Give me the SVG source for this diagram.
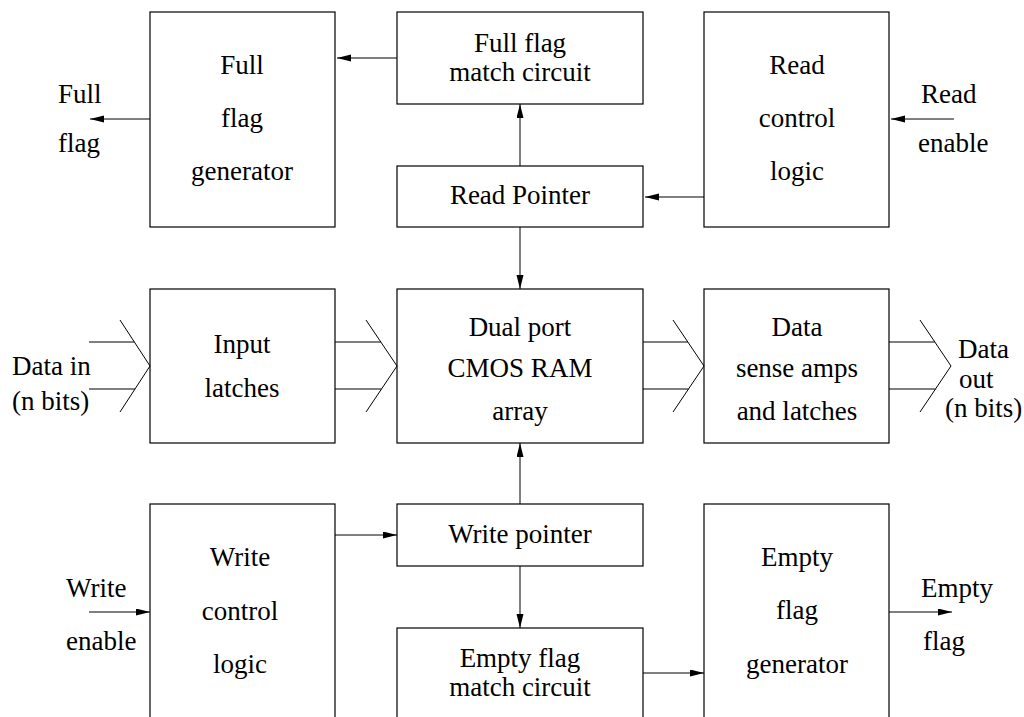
<svg xmlns="http://www.w3.org/2000/svg" width="1024" height="717" viewBox="0 0 1024 717">
  <style>
    .box { fill: #fff; stroke: #000; stroke-width: 1.2; }
    .wire { fill: none; stroke: #000; stroke-width: 1; }
    .arr { fill: none; stroke: #000; stroke-width: 1; marker-end: url(#head); }
    text { font-family: "Liberation Serif", "Times New Roman", serif; font-size: 27px; fill: #000; }
    .c { text-anchor: middle; }
  </style>
  <defs>
    <marker id="head" markerUnits="userSpaceOnUse" markerWidth="14" markerHeight="8" refX="14" refY="3.5" orient="auto">
      <path d="M0,0 L14,3.5 L0,7 z" fill="#000"/>
    </marker>
  </defs>

  <rect width="1024" height="717" fill="#fff"/>

  <!-- top row -->
  <g id="full-flag-generator">
    <rect class="box" x="150" y="12" width="185" height="215"/>
    <text class="c" x="242" y="74">Full</text>
    <text class="c" x="242" y="127">flag</text>
    <text class="c" x="242" y="180">generator</text>
  </g>
  <g id="full-flag-match">
    <rect class="box" x="397" y="12" width="246" height="92"/>
    <text class="c" x="520" y="52">Full flag</text>
    <text class="c" x="520" y="81">match circuit</text>
  </g>
  <g id="read-control-logic">
    <rect class="box" x="704" y="12" width="185" height="215"/>
    <text class="c" x="797" y="74">Read</text>
    <text class="c" x="797" y="127">control</text>
    <text class="c" x="797" y="180">logic</text>
  </g>
  <g id="read-pointer">
    <rect class="box" x="397" y="166" width="246" height="61"/>
    <text class="c" x="520" y="204">Read Pointer</text>
  </g>

  <!-- middle row -->
  <g id="input-latches">
    <rect class="box" x="150" y="289" width="185" height="154"/>
    <text class="c" x="242" y="353">Input</text>
    <text class="c" x="242" y="397">latches</text>
  </g>
  <g id="ram-array">
    <rect class="box" x="397" y="289" width="246" height="154"/>
    <text class="c" x="520" y="336">Dual port</text>
    <text class="c" x="520" y="377">CMOS RAM</text>
    <text class="c" x="520" y="420">array</text>
  </g>
  <g id="sense-amps">
    <rect class="box" x="704" y="289" width="185" height="154"/>
    <text class="c" x="797" y="336">Data</text>
    <text class="c" x="797" y="377">sense amps</text>
    <text class="c" x="797" y="420">and latches</text>
  </g>

  <!-- bottom row -->
  <g id="write-control-logic">
    <rect class="box" x="150" y="504" width="185" height="215"/>
    <text class="c" x="240" y="566">Write</text>
    <text class="c" x="240" y="620">control</text>
    <text class="c" x="240" y="673">logic</text>
  </g>
  <g id="write-pointer">
    <rect class="box" x="397" y="504" width="246" height="62"/>
    <text class="c" x="520" y="543">Write pointer</text>
  </g>
  <g id="empty-flag-match">
    <rect class="box" x="397" y="628" width="246" height="92"/>
    <text class="c" x="520" y="667">Empty flag</text>
    <text class="c" x="520" y="696">match circuit</text>
  </g>
  <g id="empty-flag-generator">
    <rect class="box" x="704" y="504" width="185" height="215"/>
    <text class="c" x="797" y="566">Empty</text>
    <text class="c" x="797" y="619">flag</text>
    <text class="c" x="797" y="673">generator</text>
  </g>

  <!-- external signal labels -->
  <g id="full-flag-label">
    <text x="58" y="103">Full</text>
    <text x="58" y="152">flag</text>
  </g>
  <g id="read-enable-label">
    <text x="921" y="103">Read</text>
    <text x="918" y="152">enable</text>
  </g>
  <g id="data-in-label">
    <text x="12" y="375">Data in</text>
    <text x="12" y="410">(n bits)</text>
  </g>
  <g id="data-out-label">
    <text x="958" y="358">Data</text>
    <text x="959" y="388">out</text>
    <text x="945" y="417">(n bits)</text>
  </g>
  <g id="write-enable-label">
    <text x="66" y="597">Write</text>
    <text x="66" y="650">enable</text>
  </g>
  <g id="empty-flag-label">
    <text x="921" y="597">Empty</text>
    <text x="923" y="650">flag</text>
  </g>

  <!-- connectors -->
  <g id="connectors">
    <path class="arr" d="M397,58 H337"/>
    <path class="arr" d="M150,119 H90"/>
    <path class="arr" d="M954,119 H891"/>
    <path class="arr" d="M704,197 H645"/>
    <path class="arr" d="M520,166 V104"/>
    <path class="arr" d="M520,227 V289"/>
    <path class="arr" d="M520,504 V443"/>
    <path class="arr" d="M520,566 V628"/>
    <path class="arr" d="M335,535 H397"/>
    <path class="arr" d="M89,612 H150"/>
    <path class="arr" d="M643,673 H704"/>
    <path class="arr" d="M889,612 H952"/>

    <!-- n-bit buses -->
    <path class="wire" d="M89,342 H134.3 M89,389 H135 M120,320 L150,366 L120,412"/>
    <path class="wire" d="M335,342 H380.8 M335,389 H381.5 M366,320 L397,366 L366,412"/>
    <path class="wire" d="M643,342 H687.8 M643,389 H688.5 M673,320 L704,366 L673,412"/>
    <path class="wire" d="M889,342 H934.8 M889,389 H935.5 M920,320 L951,366 L920,412"/>
  </g>
</svg>
